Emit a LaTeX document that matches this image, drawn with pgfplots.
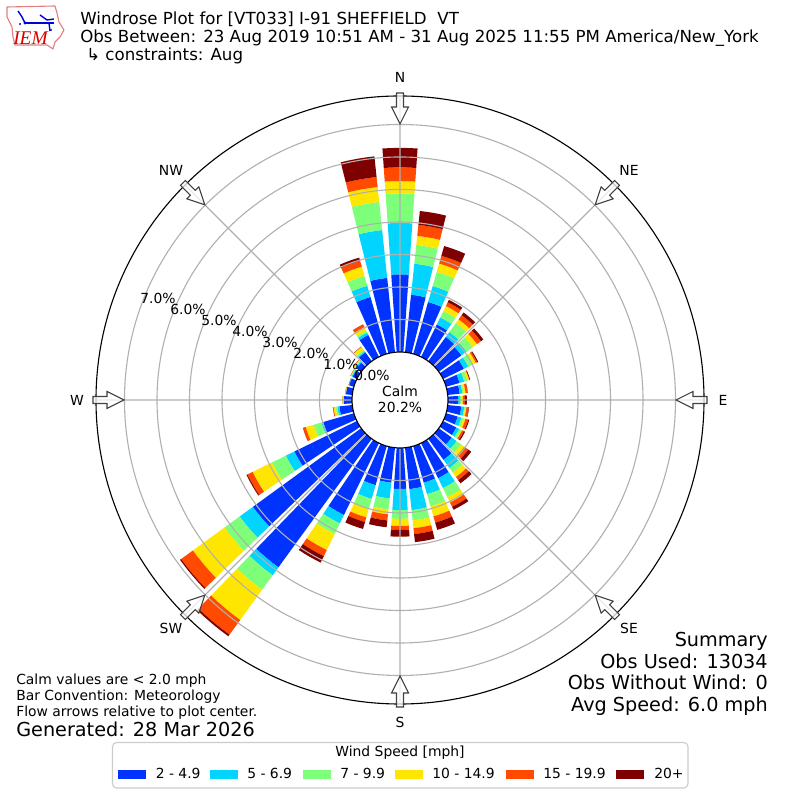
\documentclass[border=0pt]{standalone}
\usepackage{pgfplots}
\usepackage{pgfplotstable}
\usepackage{fontspec}
\pgfplotsset{compat=1.18}
\usepgfplotslibrary{polar}
\setmainfont{DejaVu Sans}
\newfontfamily\logofont{Liberation Serif}
\definecolor{c1}{HTML}{0033FF}
\definecolor{c2}{HTML}{00D4FF}
\definecolor{c3}{HTML}{7DFF7A}
\definecolor{c4}{HTML}{FFE600}
\definecolor{c5}{HTML}{FF4A00}
\definecolor{c6}{HTML}{7F0000}
\definecolor{gridc}{HTML}{B0B0B0}
% cumulative percent frequency at the top of each speed class
\pgfplotstableread{
dir b1 b2 b3 b4 b5 b6
0 2.39 3.97 4.88 5.26 5.68 6.28
10 1.78 2.74 3.32 3.60 3.94 4.37
20 1.66 2.17 2.62 2.89 3.14 3.45
30 1.11 1.35 1.57 1.74 1.87 1.95
40 0.92 1.11 1.45 1.59 1.75 1.85
50 0.86 1.05 1.29 1.45 1.60 1.69
60 0.71 0.86 1.03 1.12 1.17 1.20
70 0.43 0.58 0.68 0.74 0.75 0.77
80 0.37 0.45 0.49 0.55 0.62 0.62
90 0.31 0.37 0.42 0.46 0.52 0.58
100 0.42 0.51 0.54 0.58 0.65 0.66
110 0.37 0.49 0.55 0.62 0.71 0.74
120 0.45 0.55 0.62 0.65 0.71 0.75
130 0.49 0.68 0.85 0.97 1.12 1.23
140 0.80 1.11 1.29 1.45 1.57 1.69
150 1.20 1.54 1.85 2.03 2.18 2.28
160 1.17 1.54 1.93 2.25 2.45 2.68
170 1.28 1.93 2.25 2.49 2.67 2.92
180 1.26 1.91 2.18 2.40 2.52 2.73
190 1.08 1.57 1.91 2.06 2.25 2.46
200 1.25 1.69 1.99 2.28 2.43 2.65
210 2.46 2.75 3.11 3.66 3.87 4.09
220 4.89 5.19 5.74 6.89 7.45 7.51
230 4.12 4.62 5.20 6.40 6.85 6.89
240 2.14 2.43 2.91 3.57 3.75 3.78
250 0.98 1.04 1.29 1.54 1.63 1.63
260 0.40 0.46 0.51 0.58 0.60 0.60
270 0.25 0.26 0.28 0.30 0.30 0.30
280 0.20 0.20 0.20 0.22 0.22 0.22
290 0.15 0.17 0.17 0.17 0.17 0.17
300 0.15 0.18 0.20 0.22 0.22 0.22
310 0.18 0.22 0.25 0.28 0.29 0.29
320 0.34 0.38 0.43 0.54 0.55 0.55
330 0.75 0.83 0.89 1.02 1.11 1.11
340 1.82 2.18 2.49 2.79 2.98 3.08
350 2.30 3.78 4.65 5.11 5.42 6.06
}\windtab
\def\roff{1.477}
\newcommand\windbar[3]{%
  \pgfplotstablegetelem{#1}{#2}\of\windtab
  \pgfmathsetmacro\rnew{\pgfplotsretval+\roff}%
  \pgfmathsetmacro\tA{\wth-4}\pgfmathsetmacro\tB{\wth-2}%
  \pgfmathsetmacro\tD{\wth+2}\pgfmathsetmacro\tE{\wth+4}%
  \edef\tmp{\noexpand\addplot[draw=none,fill=#3,forget plot] coordinates {
    (\tA,\rold)(\tA,\rnew)(\tB,\rnew)(\wth,\rnew)(\tD,\rnew)(\tE,\rnew)
    (\tE,\rold)(\tD,\rold)(\wth,\rold)(\tB,\rold)(\tA,\rold)};}\tmp
  \global\let\rold\rnew
}
\newcommand\fs[1]{\fontsize{#1}{#1}\selectfont}
\begin{document}
\begin{tikzpicture}[x=0.72bp,y=0.72bp]
\path[use as bounding box] (0,0) rectangle (800,800);
\begin{polaraxis}[
  at={(288bp,288bp)},anchor=origin,
  scale only axis,width=437.76bp,height=437.76bp,
  xmin=0,xmax=360,ymin=0,ymax=9.354,
  xtick={0,45,...,315},
  ytick={2.477,3.477,4.477,5.477,6.477,7.477,8.477},
  xticklabels={},yticklabels={},
  grid=both,
  major grid style={gridc,line width=0.8bp},
  major tick length=0pt,
  axis line style={black,line width=0.8bp},
  y axis line style={draw=none},
  axis on top,clip=false,no markers,
]
\pgfplotsinvokeforeach{0,...,35}{%
  \pgfplotstablegetelem{#1}{dir}\of\windtab
  \pgfmathsetmacro\wth{90-\pgfplotsretval}%
  \xdef\rold{\roff}%
  \windbar{#1}{b1}{c1}\windbar{#1}{b2}{c2}\windbar{#1}{b3}{c3}%
  \windbar{#1}{b4}{c4}\windbar{#1}{b5}{c5}\windbar{#1}{b6}{c6}%
}
\end{polaraxis}
\begin{scope}[shift={(0,800)},yscale=-1]
  % calm circle
  \draw[black,fill=white,line width=0.8bp] (400,400) circle (48);
  % arrows
  \foreach \a in {0,45,...,315}{
    \begin{scope}[shift={(400,400)},rotate=\a]
      \draw[draw=black!75,fill=white,fill opacity=0.75,line width=0.8bp,line join=miter]
        (0,-276)--(8.5,-293)--(3.5,-293)--(3.5,-307)--(-3.5,-307)--(-3.5,-293)--(-8.5,-293)--cycle;
    \end{scope}
  }
  \tikzset{t/.style={inner sep=0pt,font=\fs{10.04}}}
  \node[t] at (400,77) {N};
  \node[t] at (629,170) {NE};
  \node[t] at (723,400) {E};
  \node[t] at (629,628) {SE};
  \node[t] at (400,722) {S};
  \node[t] at (171,628) {SW};
  \node[t] at (77,400) {W};
  \node[t] at (171,170) {NW};
  \node[t] at (372,375) {0.0\%};
  \node[t] at (341,364) {1.0\%};
  \node[t] at (311,353) {2.0\%};
  \node[t] at (280,342) {3.0\%};
  \node[t] at (250,331) {4.0\%};
  \node[t] at (219,320) {5.0\%};
  \node[t] at (188,309) {6.0\%};
  \node[t] at (158,298) {7.0\%};
  \node[t] at (400,391) {Calm};
  \node[t] at (400,407) {20.2\%};
  % titles
  \tikzset{h/.style={inner sep=0pt,anchor=base west,font=\fs{12.02}}}
  \node[h] at (80,24.5) {Windrose Plot for [VT033] I-91 SHEFFIELD\ \ VT};
  \node[h] at (80,42.5) {Obs Between: 23 Aug 2019 10:51 AM - 31 Aug 2025 11:55 PM America/New\_York};
  \node[h] at (86,61) {↳ constraints: Aug};
  % logo
  \draw[red!45!white!90!black,line width=0.8bp,line join=round] (7,7)--(55,6)--(57,13)--(59,22)--(64,30)--(60,37)--(55,42)--(53,49)--(47,45)--(15,45)--(13,37)--(12,27)--(7,17)--cycle;
  \draw[blue!85!black,line width=1.2bp] (25,23)--(54,23);
  \draw[blue!85!black,line width=1bp] (18,11)--(22,17)--(25,23) (40,15)--(47,20)--(54,19) (49,23)--(50,31);
  \fill[blue!85!black] (25,23) circle (1.6) (20,24) circle (1.2) (51,30) circle (1.2);
  \node[inner sep=0pt,text=red!85!black,font=\logofont\itshape\fs{14}] at (30.5,38.5) {IEM};
  % footers
  \tikzset{f/.style={inner sep=0pt,anchor=base west,font=\fs{10.04}}}
  \node[f] at (16,684.5) {Calm values are < 2.0 mph};
  \node[f] at (16,700.5) {Bar Convention: Meteorology};
  \node[f] at (16,717) {Flow arrows relative to plot center.};
  \node[inner sep=0pt,anchor=base west,font=\fs{13.9}] at (16,737) {Generated: 28 Mar 2026};
  \tikzset{s/.style={inner sep=0pt,anchor=base east,font=\fs{13.9}}}
  \node[s] at (768,647) {Summary};
  \node[s] at (768,669) {Obs Used: 13034};
  \node[s] at (768,690) {Obs Without Wind: 0};
  \node[s] at (768,712) {Avg Speed: 6.0 mph};
  % legend
  \draw[rounded corners=3,draw=black!20,fill=white,line width=0.8bp] (112.5,742.5) rectangle (688,788);
  \node[t] at (400,753) {Wind Speed [mph]};
  \tikzset{l/.style={inner sep=0pt,anchor=base west,font=\fs{10.04}}}
  \fill[c1] (118,770) rectangle (146,779); \node[l] at (155.5,779) {2 - 4.9};
  \fill[c2] (210,770) rectangle (238,779); \node[l] at (247,779) {5 - 6.9};
  \fill[c3] (303,770) rectangle (331,779); \node[l] at (340,779) {7 - 9.9};
  \fill[c4] (395,770) rectangle (423,779); \node[l] at (432,779) {10 - 14.9};
  \fill[c5] (506,770) rectangle (534,779); \node[l] at (543,779) {15 - 19.9};
  \fill[c6] (616,770) rectangle (644,779); \node[l] at (654,779) {20+};
\end{scope}
\end{tikzpicture}
\end{document}
